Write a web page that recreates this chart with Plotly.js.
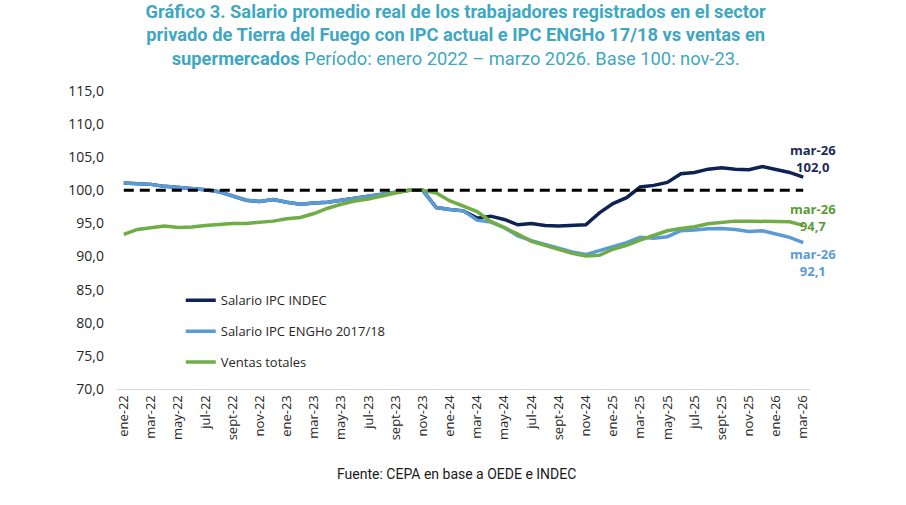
<!DOCTYPE html>
<html>
<head>
<meta charset="utf-8">
<script src="https://cdn.plot.ly/plotly-3.0.1.min.js"></script>
<style>
  html, body { margin: 0; padding: 0; background: #fff; }
  #graph { width: 906px; height: 505px; }
</style>
</head>
<body>
<div id="graph"></div>
<script>
// meses enero 2022 - marzo 2026
let months = [
  'ene-22','feb-22','mar-22','abr-22','may-22','jun-22','jul-22','ago-22','sept-22','oct-22','nov-22','dic-22',
  'ene-23','feb-23','mar-23','abr-23','may-23','jun-23','jul-23','ago-23','sept-23','oct-23','nov-23','dic-23',
  'ene-24','feb-24','mar-24','abr-24','may-24','jun-24','jul-24','ago-24','sept-24','oct-24','nov-24','dic-24',
  'ene-25','feb-25','mar-25','abr-25','may-25','jun-25','jul-25','ago-25','sept-25','oct-25','nov-25','dic-25',
  'ene-26','feb-26','mar-26'
];

// Salario IPC INDEC
let salarioIndec = [
  101.1, 100.95, 100.9, 100.6, 100.45, 100.35, 100.1, 99.8, 99.2, 98.5, 98.3, 98.6,
  98.2, 97.9, 98.1, 98.2, 98.5, 98.8, 99.1, 99.5, 99.8, 100.0, 100.0, 97.4,
  97.1, 96.9, 95.8, 96.1, 95.6, 94.8, 95.0, 94.7, 94.6, 94.7, 94.8, 96.6,
  98.0, 98.9, 100.5, 100.75, 101.2, 102.5, 102.7, 103.2, 103.4, 103.2, 103.1, 103.6,
  103.1, 102.7, 102.0
];

// Salario IPC ENGHo 2017/18
let salarioEngho = [
  101.1, 100.95, 100.9, 100.6, 100.45, 100.35, 100.1, 99.8, 99.2, 98.5, 98.3, 98.6,
  98.2, 97.9, 98.1, 98.2, 98.5, 98.8, 99.1, 99.5, 99.8, 100.0, 100.0, 97.4,
  97.1, 96.9, 95.5, 95.2, 94.4, 93.1, 92.4, 91.8, 91.2, 90.7, 90.3, 90.9,
  91.5, 92.1, 92.9, 92.75, 93.0, 93.9, 94.0, 94.2, 94.25, 94.1, 93.8, 93.9,
  93.4, 92.9, 92.1
];

// Ventas totales supermercados
let ventasTotales = [
  93.35, 94.1, 94.35, 94.6, 94.4, 94.45, 94.7, 94.85, 95.0, 95.0, 95.2, 95.35,
  95.7, 95.9, 96.5, 97.3, 97.9, 98.4, 98.7, 99.2, 99.6, 100.0, 100.0, 99.6,
  98.4, 97.6, 96.8, 95.3, 94.4, 93.4, 92.3, 91.7, 91.1, 90.5, 90.1, 90.2,
  91.1, 91.7, 92.5, 93.25, 93.9, 94.25, 94.5, 94.95, 95.15, 95.35, 95.35, 95.3,
  95.3, 95.25, 94.7
];

let yTicks = [70, 75, 80, 85, 90, 95, 100, 105, 110, 115];
let baseValue = 100;

let xTicks = months.filter(function(m, i) { return i % 2 === 0; });

let navy = '#0f2254';
let lightBlue = '#5b9bd5';
let green = '#70ad47';

function lineTrace(name, values, color, group) {
    return {
        x: months,
        y: values,
        mode: 'lines',
        name: name,
        legendgroup: group,
        line: { color: color, width: 3.5 },
        hoverinfo: 'skip'
    };
}

let traces = [
    lineTrace('Salario IPC INDEC', salarioIndec, navy, 'a'),
    lineTrace('Salario IPC ENGHo 2017/18', salarioEngho, lightBlue, 'b'),
    lineTrace('Ventas totales', ventasTotales, green, 'c')
];

let last = months.length - 1;
function endLabel(values, color, yshift, anchor) {
    return {
        x: months[last],
        y: values[last],
        xref: 'x', yref: 'y',
        text: 'mar-26<br>' + values[last].toFixed(1).replace('.', ','),
        showarrow: false,
        xanchor: 'center',
        yanchor: anchor,
        xshift: 10,
        yshift: yshift,
        font: { family: 'Open Sans', size: 13, color: color, weight: 'bold' }
    };
}

let layout = {
    width: 906,
    height: 505,
    margin: { l: 117, r: 96, t: 91, b: 116 },
    paper_bgcolor: '#ffffff',
    plot_bgcolor: '#ffffff',
    separators: ',.',
    title: {
        text: '<b>Gráfico 3. Salario promedio real de los trabajadores registrados en el sector<br>' +
              'privado de Tierra del Fuego con IPC actual e IPC ENGHo 17/18 vs ventas en<br>' +
              'supermercados</b> Período: enero 2022 – marzo 2026. Base 100: nov-23.',
        font: { family: 'Roboto', size: 18.3, color: '#3fa7c1' },
        x: 0.503, xref: 'container', xanchor: 'center',
        y: 0.965, yref: 'container', yanchor: 'top'
    },
    xaxis: {
        type: 'category',
        range: [-0.5, last + 0.5],
        tickmode: 'array',
        tickvals: xTicks,
        ticktext: xTicks,
        tickangle: -90,
        ticks: '',
        showgrid: false,
        zeroline: false,
        showline: true,
        linecolor: '#d9d9d9',
        linewidth: 1,
        tickfont: { family: 'Open Sans', size: 13, color: '#262626' }
    },
    yaxis: {
        range: [70, 115],
        tickmode: 'array',
        tickvals: yTicks,
        tickformat: '.1f',
        ticks: '',
        ticklabelstandoff: 12,
        showgrid: false,
        zeroline: false,
        showline: false,
        tickfont: { family: 'Open Sans', size: 14, color: '#262626' }
    },
    showlegend: true,
    legend: {
        x: 0.092, y: 0.348,
        xanchor: 'left', yanchor: 'top',
        traceorder: 'grouped',
        tracegroupgap: 11,
        bgcolor: 'rgba(0,0,0,0)',
        font: { family: 'Open Sans', size: 13, color: '#262626' }
    },
    shapes: [{
        type: 'line',
        xref: 'x', yref: 'y',
        x0: months[0], x1: months[last],
        y0: baseValue, y1: baseValue,
        layer: 'above',
        line: { color: '#000000', width: 3, dash: '10px,6px' }
    }],
    annotations: [
        endLabel(salarioIndec, '#1b2a5c', -1, 'bottom'),
        endLabel(ventasTotales, '#5a9b3a', -12, 'bottom'),
        endLabel(salarioEngho, lightBlue, 0, 'top'),
        {
            text: 'Fuente: CEPA en base a OEDE e INDEC',
            xref: 'paper', yref: 'paper',
            x: 0.49, y: -0.285,
            xanchor: 'center', yanchor: 'middle',
            showarrow: false,
            font: { family: 'Roboto', size: 14, color: '#1a1a1a' }
        }
    ]
};

Plotly.newPlot('graph', traces, layout, { displayModeBar: false, staticPlot: true });
</script>
</body>
</html>
